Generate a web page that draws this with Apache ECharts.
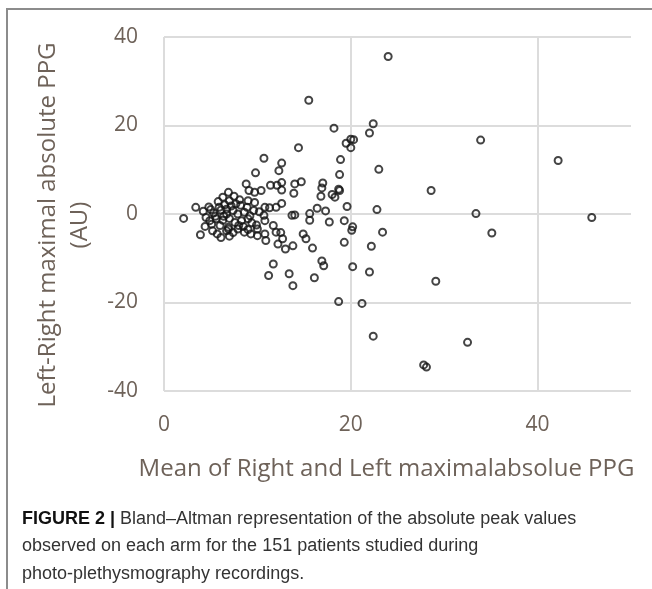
<!DOCTYPE html>
<html>
<head>
<meta charset="utf-8">
<script src="https://cdn.jsdelivr.net/npm/echarts@6/dist/echarts.min.js"></script>
<style>
  html, body { margin: 0; padding: 0; background: #fff; }
  #main { width: 652px; height: 589px; }
</style>
</head>
<body>
<div id="main"></div>
<script>
// Bland-Altman points: mean of right/left (x) and left-right difference (y)
const meanPPG = [
  24.0, 22.4, 22.0, 20.3, 19.5, 20.0, 20.0, 33.9, 42.2, 18.9, 23.0, 18.8, 18.8, 28.6, 19.6, 22.8, 33.4,
  45.8, 19.3, 20.2, 20.1, 23.4, 35.1, 19.3, 22.2, 20.2, 22.0, 29.1, 18.7, 21.2, 22.4, 32.5, 27.8, 28.1,
  15.5, 18.2, 14.4, 10.7, 12.6, 12.3, 9.8, 8.8, 9.1, 9.7, 10.4, 11.4, 12.1, 12.6, 12.6, 14.0, 14.7,
  13.9, 17.0, 16.9, 16.8, 18.0, 18.7, 18.3, 9.0, 9.7, 10.8, 11.3, 12.0, 12.6, 16.4, 17.3, 15.6, 15.6,
  17.7, 13.7, 14.0, 10.7, 12.5, 13.0, 13.8, 14.9, 15.2, 15.9, 16.9, 17.1, 11.7, 11.2, 13.4, 13.8, 16.1,
  11.7, 10.8, 10.9, 12.0, 12.2, 12.7, 10.0, 9.3, 8.6, 10.0, 10.8,
  2.1, 3.9, 3.4, 4.2, 4.8, 4.5, 5.3, 5.9, 6.3, 6.5, 5.6, 5.1, 6.0, 6.7, 6.3, 5.7, 6.1, 6.9, 6.9, 7.0,
  7.7, 6.7, 7.4, 7.9, 8.6, 7.0, 7.6, 8.3, 9.0, 6.9, 7.9, 9.0, 6.7,
  5.0, 5.5, 4.9, 7.2, 8.2, 8.0, 8.5, 7.4, 9.4, 9.6, 8.9, 6.1, 5.8, 7.5, 9.2, 9.9, 10.2, 6.4, 4.4, 5.2,
  8.1, 7.0
];
const diffPPG = [
  35.6, 20.4, 18.3, 16.8, 16.0, 15.0, 16.9, 16.7, 12.1, 12.3, 10.1, 8.9, 5.3, 5.3, 1.7, 1.0, 0.1,
  -0.8, -1.5, -2.9, -3.7, -4.1, -4.3, -6.4, -7.3, -11.9, -13.1, -15.2, -19.8, -20.2, -27.6, -29.0, -34.1, -34.6,
  25.7, 19.4, 15.0, 12.6, 11.5, 9.8, 9.3, 6.8, 5.3, 4.9, 5.3, 6.5, 6.5, 5.4, 7.1, 6.8, 7.3,
  4.7, 7.0, 5.9, 4.0, 4.4, 5.6, 3.8, 3.0, 2.6, 1.5, 1.4, 1.5, 2.4, 1.3, 0.7, 0.1, -1.4,
  -1.8, -0.3, -0.2, -0.3, -4.2, -7.9, -7.2, -4.5, -5.6, -7.7, -10.6, -11.7, -11.3, -13.9, -13.5, -16.2, -14.4,
  -2.6, -4.5, -6.0, -4.1, -6.8, -5.6, -4.9, -4.5, -4.1, -3.4, -1.5,
  -1.0, -4.7, 1.5, 0.6, 1.6, -0.8, 0.2, 1.5, 3.8, 2.1, -1.1, -2.3, -2.6, 0.0, -1.4, -4.5, -5.3, -3.4, 4.9, 3.0,
  2.3, 1.1, 0.8, 0.0, 0.4, -1.0, -1.9, -1.5, -1.1, -3.0, -3.4, -3.5, -3.8,
  1.0, -0.5, -1.5, 1.8, 2.0, -2.6, -2.8, -4.2, -2.0, 0.8, 1.5, 0.9, 2.8, 4.0, -0.4, -2.5, 0.5, -0.5, -2.8, -3.8,
  3.2, -5.0
];
const xTicks = [0, 20, 40];
const yTicks = [-40, -20, 0, 20, 40];

const points = meanPPG.map((x, i) => [x, diffPPG[i]]);

const labelColor = "#6e6259";
const labelFont = "'Open Sans', 'DejaVu Sans', sans-serif";

let myChart = echarts.init(document.getElementById("main"));
myChart.setOption({
  animation: false,
  backgroundColor: "#fff",
  grid: {
    left: 164,
    right: 21,
    top: 37,
    bottom: 198,
    containLabel: false
  },
  xAxis: {
    type: "value",
    min: 0,
    max: 50,
    interval: 20,
    name: "Mean of Right and Left maximalabsolue PPG",
    nameLocation: "middle",
    nameGap: 66,
    nameTextStyle: {
      color: labelColor,
      fontFamily: labelFont,
      fontSize: 24,
      padding: [0, 22, 0, 0]
    },
    axisLine: { show: false },
    axisTick: { show: false },
    axisLabel: {
      color: labelColor,
      fontFamily: labelFont,
      fontSize: 21,
      margin: 24,
      showMaxLabel: false,
      formatter: v => (xTicks.includes(v) ? String(v) : "")
    },
    splitLine: {
      show: true,
      showMaxLine: false,
      lineStyle: { color: "#dcdcdc", width: 2 }
    }
  },
  yAxis: {
    type: "value",
    min: -40,
    max: 40,
    interval: 20,
    name: "Left-Right maximal absolute PPG\n(AU)",
    nameLocation: "middle",
    nameRotate: 90,
    nameGap: 64,
    nameTextStyle: {
      color: labelColor,
      fontFamily: labelFont,
      fontSize: 24,
      lineHeight: 32,
      padding: [0, 22, 0, 0]
    },
    axisLine: { show: false },
    axisTick: { show: false },
    axisLabel: {
      color: labelColor,
      fontFamily: labelFont,
      fontSize: 21,
      margin: 26,
      formatter: v => (yTicks.includes(v) ? String(v) : "")
    },
    splitLine: {
      show: true,
      lineStyle: { color: "#dcdcdc", width: 2 }
    }
  },
  graphic: [
    // frame of the figure
    {
      type: "polyline",
      shape: { points: [[7, 589], [7, 9], [652, 9]] },
      style: { stroke: "#8c8c8c", lineWidth: 2, fill: null },
      silent: true
    },
    // caption
    {
      type: "text",
      left: 22,
      top: 505,
      style: {
        text: "{b|FIGURE 2 |} Bland–Altman representation of the absolute peak values\nobserved on each arm for the 151 patients studied during\nphoto-plethysmography recordings.",
        fill: "#333",
        fontFamily: "'Liberation Sans', Arial, sans-serif",
        fontSize: 18,
        lineHeight: 27.5,
        rich: {
          b: {
            fill: "#111",
            fontWeight: "bold",
            fontFamily: "'Liberation Sans', Arial, sans-serif",
            fontSize: 18,
            lineHeight: 27.5
          }
        }
      }
    }
  ],
  series: [
    {
      type: "scatter",
      data: points,
      symbol: "circle",
      symbolSize: 7,
      itemStyle: {
        color: "rgba(255,255,255,0)",
        borderColor: "#151515",
        borderWidth: 2
      }
    }
  ]
});
</script>
</body>
</html>
